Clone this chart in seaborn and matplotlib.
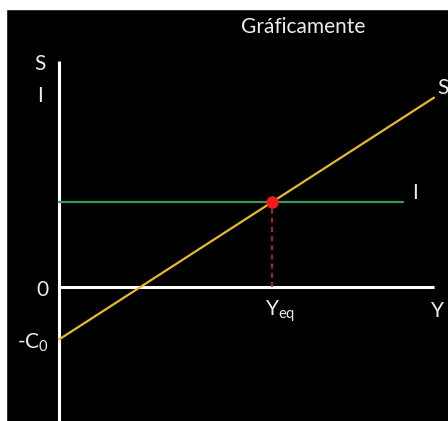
import matplotlib
matplotlib.use("Agg")
import matplotlib.pyplot as plt
from matplotlib.patches import Rectangle
import seaborn as sns
import pandas as pd

# Savings / investment model values
income = [0.0, 10.0]                 # Y range of the savings line
c0 = 1.4                             # autonomous consumption (intercept -C0)
mps = 0.645                          # marginal propensity to save
savings = [-c0 + mps * y for y in income]
invest_income = [0.0, 9.17]          # Y range of the investment line
invest_level = 2.27                  # autonomous investment I
y_eq = 5.69                          # equilibrium income

sns.set_style("dark")
plt.rcParams["font.family"] = ["Lato", "DejaVu Sans"]
plt.rcParams["mathtext.fontset"] = "custom"
plt.rcParams["mathtext.rm"] = "Lato"

fig = plt.figure(figsize=(4.48, 4.21), dpi=100, facecolor="black")
ax = fig.add_axes([6 / 448, 0, 442 / 448, 412 / 421])
ax.set_facecolor("black")
ax.set_xlim(-1.413, 10.373)
ax.set_ylim(-3.573, 7.413)
for sp in ax.spines.values():
    sp.set_visible(False)
ax.set_xticks([])
ax.set_yticks([])
ax.grid(False)

# White margin on the left and top of the slide
fig.patches.append(Rectangle((0, 0), 6 / 448, 1, transform=fig.transFigure,
                             color="white", zorder=10))
fig.patches.append(Rectangle((0, 412 / 421), 1, 9 / 421, transform=fig.transFigure,
                             color="white", zorder=10))

# Coordinate axes
ax.plot([0, 0], [-3.7, 6.03], color="white", lw=2.2, solid_capstyle="butt", zorder=2)
ax.plot([0, 10.0], [0, 0], color="white", lw=2.2, solid_capstyle="butt", zorder=2)

# Savings and investment schedules
df_s = pd.DataFrame({"Y": income, "S": savings})
df_i = pd.DataFrame({"Y": invest_income, "I": [invest_level] * len(invest_income)})
sns.lineplot(data=df_i, x="Y", y="I", ax=ax, color="#3a9a5e", lw=1.6, zorder=3)
sns.lineplot(data=df_s, x="Y", y="S", ax=ax, color="#e6b830", lw=1.6, zorder=4)

# Equilibrium
ax.plot([y_eq, y_eq], [0, invest_level], color="#c8282a", lw=1.2,
        ls=(0, (3, 2.5)), zorder=3)
ax.plot([y_eq], [invest_level], "o", color="#f21a1a", ms=9, mec="none", zorder=5)

ax.set_xlabel("")
ax.set_ylabel("")

txt = dict(color="#ececec", fontsize=15, ha="center", va="center")
ax.text(6.5, 6.93, "Gráficamente", **txt)
ax.text(-0.51, 5.95, "S", **txt)
ax.text(-0.51, 5.1, "I", **txt)
ax.text(-0.45, -0.08, "0", **txt)
ax.text(-0.68, -1.5, r"-$\mathregular{C_0}$", **txt)
ax.text(y_eq + 0.2, -0.65, r"$\mathregular{Y_{eq}}$", **txt)
ax.text(10.08, -0.65, "Y", **txt)
ax.text(10.25, 5.3, "S", **txt)
ax.text(9.5, 2.5, "I", **txt)

fig.savefig("out.png", dpi=100, facecolor="black")
